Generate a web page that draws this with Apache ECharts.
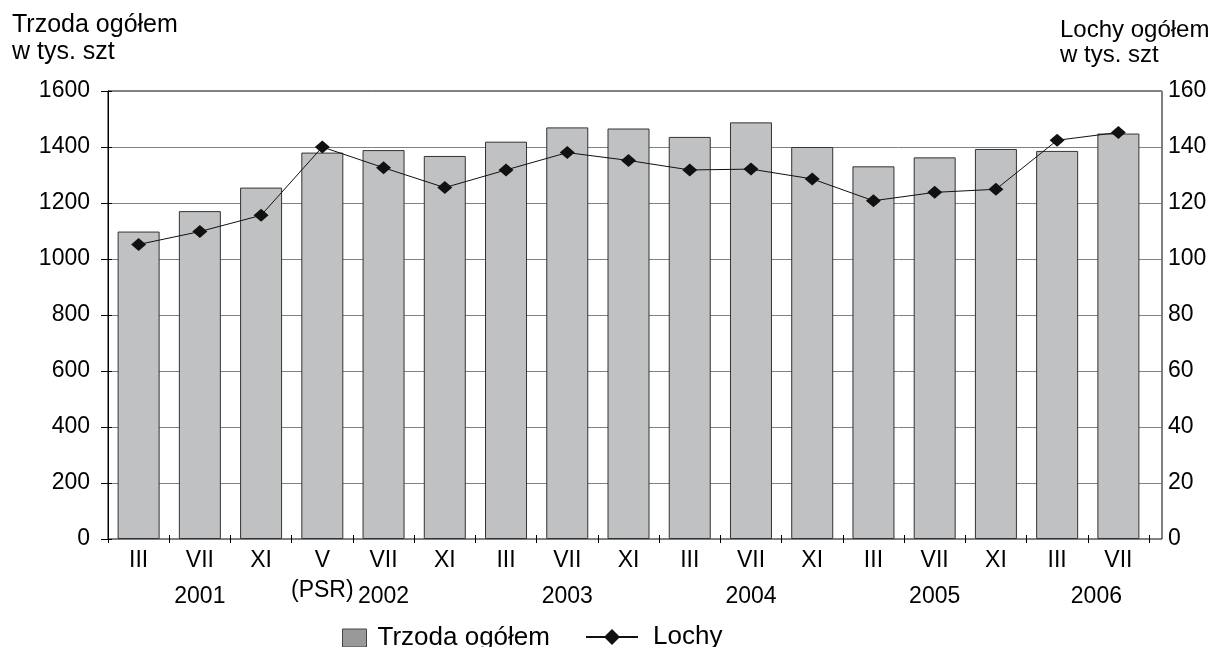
<!DOCTYPE html>
<html>
<head>
<meta charset="utf-8">
<script src="https://cdn.jsdelivr.net/npm/echarts@6/dist/echarts.min.js"></script>
<style>
html,body{margin:0;padding:0;background:#fff;}
#chart{width:1218px;height:647px;}
</style>
</head>
<body>
<div id="chart"></div>
<script>
var months = ['III','VII','XI','V\n(PSR)','VII','XI','III','VII','XI','III','VII','XI','III','VII','XI','III','VII'];
var years = ['','2001','','','2002','','','2003','','','2004','','','2005','','','2006'];
var trzoda = [1098, 1171, 1255, 1380, 1389, 1368, 1419, 1470, 1466, 1436, 1488, 1400, 1331, 1363, 1393, 1386, 1448];
var lochy = [105.2, 109.8, 115.6, 140.0, 132.6, 125.5, 131.8, 138.0, 135.2, 131.8, 132.1, 128.6, 120.8, 123.8, 124.9, 142.4, 145.2];

var FONT = '"Liberation Sans", Arial, sans-serif';
var chart = echarts.init(document.getElementById('chart'), null, {renderer:'canvas'});
var axisFont = {fontFamily: FONT, fontSize: 23, color: '#000'};
var plain = function (v) { return String(v); };

chart.setOption({
  animation: false,
  backgroundColor: '#fff',
  title: [
    {text: 'Trzoda ogółem\nw tys. szt', left: 12, top: 12, padding: 0,
     textStyle: {fontFamily: FONT, fontSize: 25, fontWeight: 'normal', color: '#000', lineHeight: 27}},
    {text: 'Lochy ogółem\nw tys. szt', left: 1060, top: 18, padding: 0,
     textStyle: {fontFamily: FONT, fontSize: 24, fontWeight: 'normal', color: '#000', lineHeight: 25}}
  ],
  legend: [
    {data: [{name: 'Trzoda ogółem', itemStyle: {color: '#999', borderColor: '#444', borderWidth: 1}}],
     left: 342, top: 625, padding: 0, itemWidth: 24, itemHeight: 18, icon: 'rect',
     textStyle: {fontFamily: FONT, fontSize: 26, color: '#000', padding: [0,0,0,6]}},
    {data: ['Lochy'], left: 585, top: 624, padding: 0, itemWidth: 52, itemHeight: 20,
     textStyle: {fontFamily: FONT, fontSize: 26, color: '#000', padding: [0,0,0,10]}}
  ],
  grid: [
    {left: 108, right: 69, top: 91, bottom: 108, show: false},
    {left: 108, right: 56, top: 91, bottom: 108, show: true, borderColor: '#000', borderWidth: 1, backgroundColor: 'transparent'}
  ],
  xAxis: [
    {type: 'category', gridIndex: 0, position: 'bottom', data: months,
     axisLine: {show: false}, axisTick: {show: true, length: 4, lineStyle: {color: '#000'}},
     axisLabel: Object.assign({interval: 0, margin: 7, lineHeight: 30}, axisFont)},
    {type: 'category', gridIndex: 0, position: 'bottom', data: years,
     axisLine: {show: false}, axisTick: {show: true, inside: true, length: 4, lineStyle: {color: '#000'}},
     axisLabel: Object.assign({interval: 0, margin: 46,
       formatter: function (v) { return v === '2006' ? '{s|' + v + '}' : v; },
       rich: {s: {fontFamily: FONT, fontSize: 23, color: '#000', padding: [0, 44, 0, 0]}}}, axisFont)},
    {type: 'value', gridIndex: 1, show: false, min: 0, max: 1}
  ],
  yAxis: [
    {type: 'value', gridIndex: 0, position: 'left', min: 0, max: 1600, interval: 200,
     axisLine: {show: true, lineStyle: {color: '#000'}},
     axisTick: {show: true, length: 7, lineStyle: {color: '#000'}},
     axisLabel: Object.assign({margin: 18, formatter: plain}, axisFont),
     splitLine: {show: false}},
    {type: 'value', gridIndex: 0, position: 'right', min: 0, max: 160, interval: 20, show: false},
    {type: 'value', gridIndex: 1, position: 'right', min: 0, max: 160, interval: 20,
     axisLine: {show: true, lineStyle: {color: '#000'}},
     axisTick: {show: true, length: 4, lineStyle: {color: '#000'}},
     axisLabel: Object.assign({margin: 6, formatter: plain}, axisFont),
     splitLine: {show: true, lineStyle: {color: '#808080', width: 1}}}
  ],
  series: [
    {name: 'Trzoda ogółem', type: 'bar', xAxisIndex: 0, yAxisIndex: 0, data: trzoda,
     barWidth: 42, itemStyle: {color: '#c0c1c3', borderColor: '#333', borderWidth: 1}},
    {name: 'Lochy', type: 'line', xAxisIndex: 0, yAxisIndex: 1, data: lochy,
     symbol: 'diamond', symbolSize: [15, 13],
     lineStyle: {color: '#111', width: 1}, itemStyle: {color: '#111'}}
  ]
});
</script>
</body>
</html>
